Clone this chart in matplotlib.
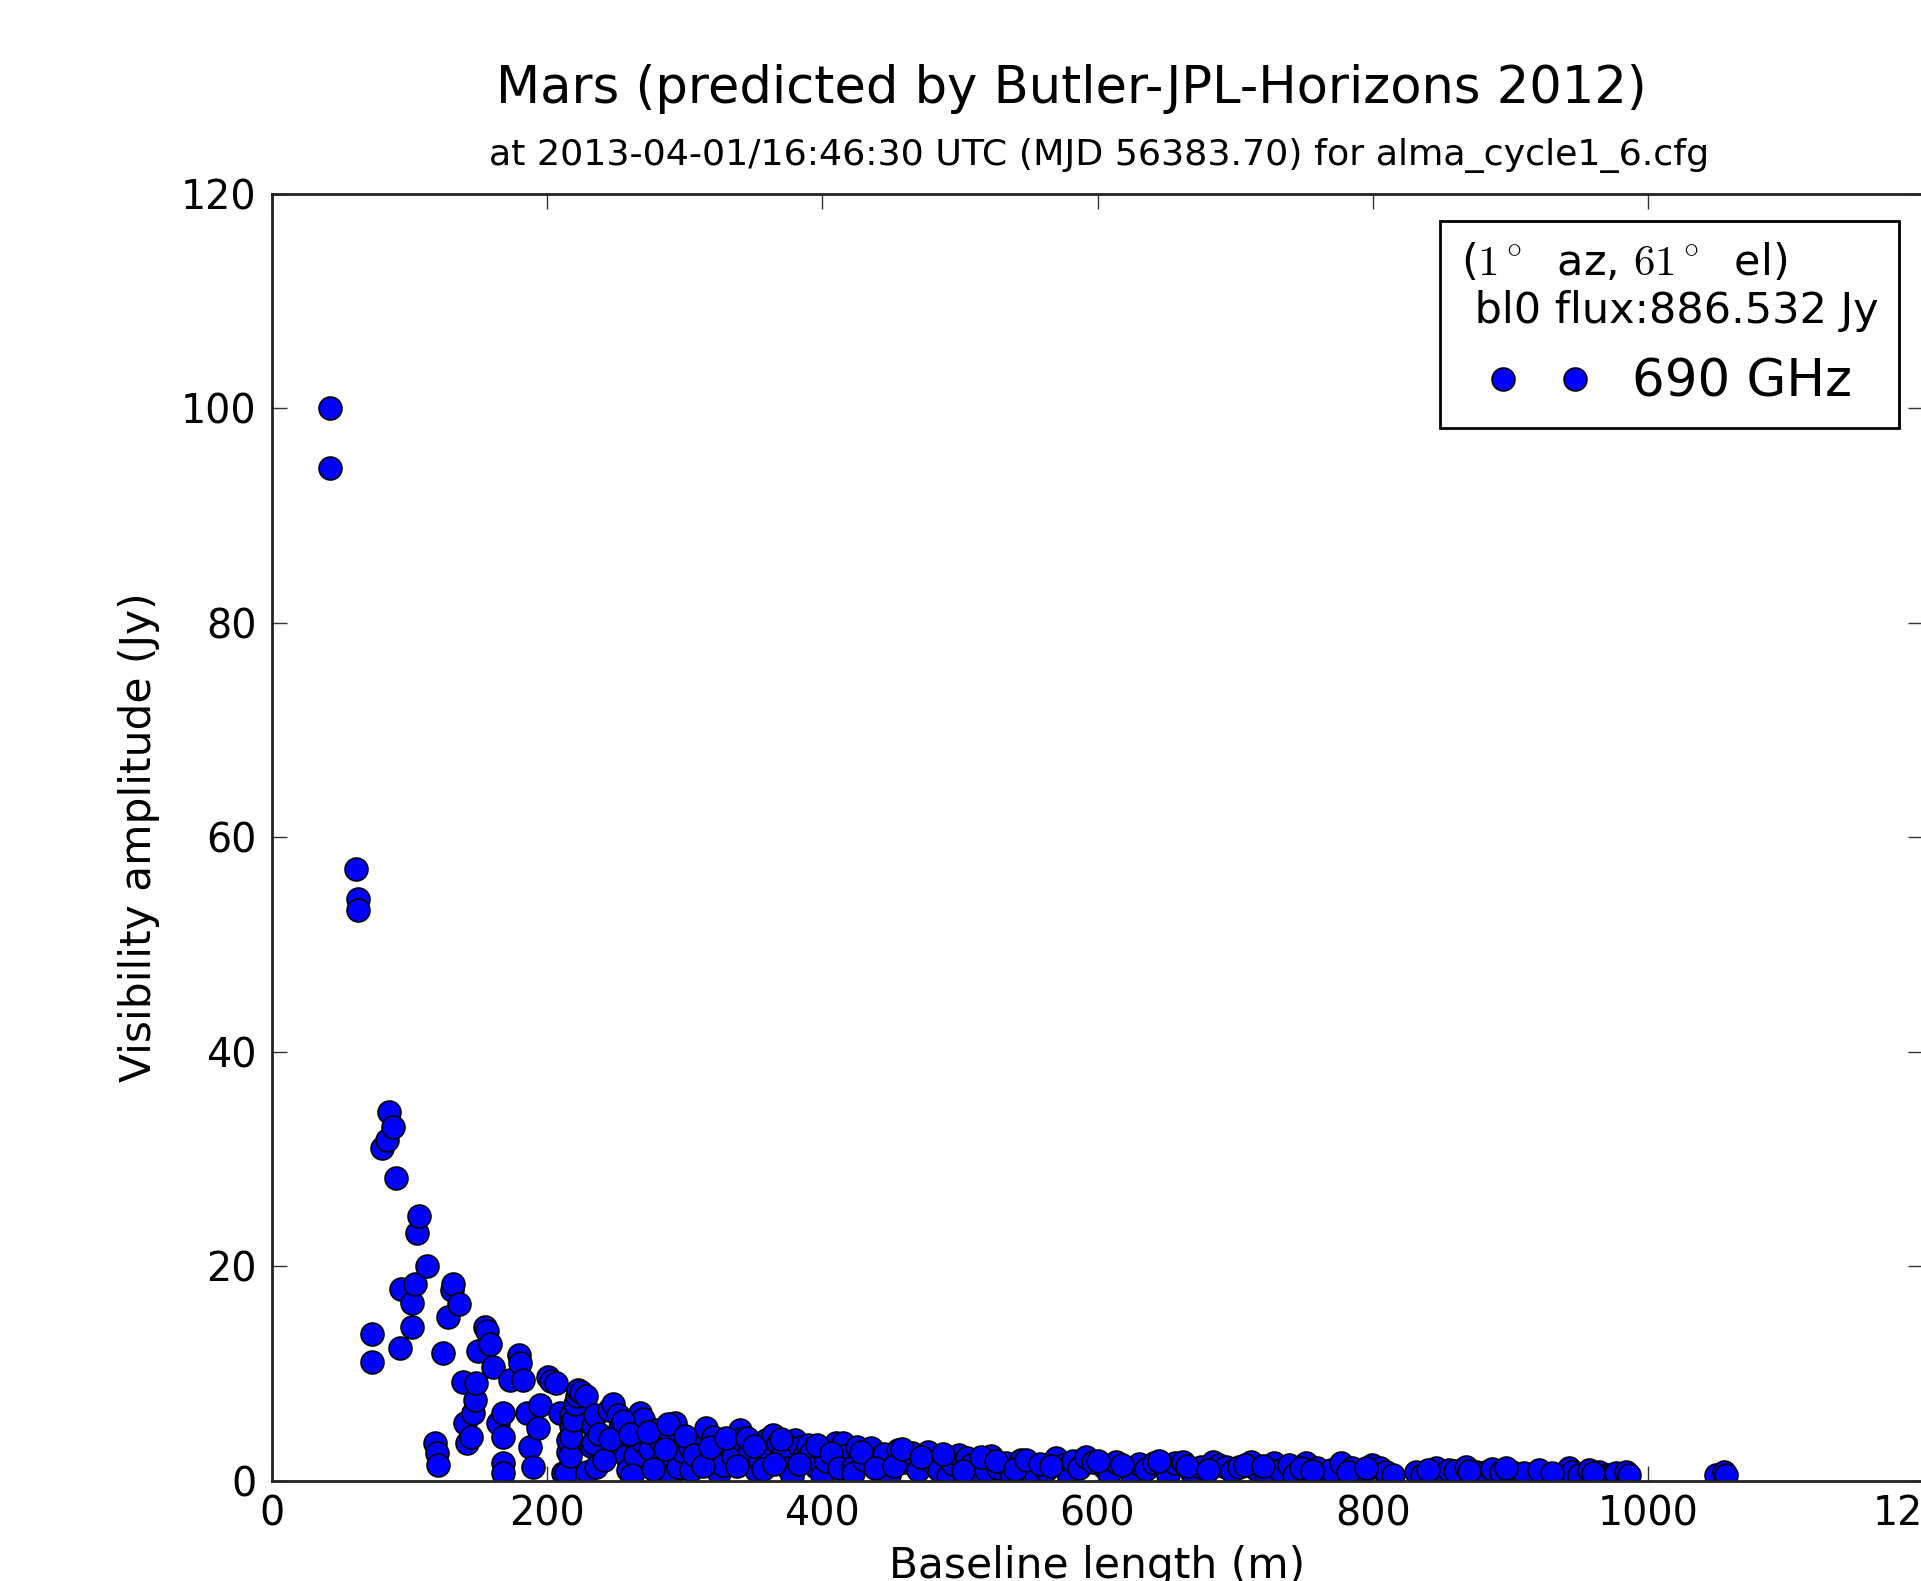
import matplotlib
matplotlib.use("Agg")
import matplotlib.pyplot as plt

plt.rcParams['mathtext.fontset'] = 'cm'
plt.rcParams['font.family'] = ['DejaVu Sans']

# ---- data (baseline length in m, visibility amplitude in Jy) ----
short_baseline_m = [41.8, 41.8, 61.4, 62.3, 62.6, 72.9, 72.9, 80.0, 83.6, 85.4, 88.0, 90.0,
                    93.0, 93.4, 101.4, 101.4, 103.8, 105.5, 107.0, 113.0, 118.4, 119.6, 120.8,
                    124.0, 128.0, 131.0, 131.7, 136.0, 139.0, 140.2, 141.4, 145.0, 146.2, 147.4,
                    148.6, 149.8, 154.7, 156.0, 158.3, 160.7, 164.4, 168.0, 168.0, 168.0, 168.0,
                    172.8, 179.6, 180.0, 182.5, 185.0, 187.4, 189.8, 193.4, 194.6, 200.7, 203.0,
                    206.7, 209.0, 211.6, 214.0, 215.0, 215.2, 216.4, 217.0, 217.6, 217.6, 218.8,
                    220.0, 221.6, 222.4, 224.9, 228.5]
short_amp_jy = [100.0, 94.4, 57.0, 54.2, 53.2, 13.7, 11.1, 31.0, 31.8, 34.4, 33.0, 28.2,
                12.4, 17.9, 16.6, 14.4, 18.4, 23.1, 24.7, 20.0, 3.5, 2.6, 1.5,
                11.9, 15.3, 17.8, 18.4, 16.5, 9.25, 5.4, 3.5, 4.1, 6.3, 7.55,
                9.1, 12.1, 14.4, 14.0, 12.8, 10.65, 5.4, 6.3, 4.1, 1.65, 0.7,
                9.4, 11.7, 11.0, 9.4, 6.3, 3.2, 1.3, 4.9, 7.1, 9.7, 9.3,
                9.1, 6.3, 0.7, 0.7, 2.7, 3.8, 2.3, 5.1, 6.15, 4.1, 5.7,
                7.2, 7.9, 8.5, 8.3, 7.9]

mid_baseline_m = [229.0, 232.0, 233.3, 233.3, 234.6, 235.8, 244.8, 247.9, 251.5, 252.7, 252.7,
                  257.0, 258.8, 263.6, 263.6, 266.0, 267.2, 270.0, 270.0, 275.0, 279.4, 281.8,
                  284.2, 289.0, 290.0, 292.7, 295.0, 298.0, 303.6, 304.8, 310.0, 315.7, 320.5,
                  323.0, 325.0, 327.7, 333.0, 335.0, 339.9, 341.0, 347.1, 352.0, 355.0, 359.2,
                  360.0, 364.0, 368.0, 371.3, 375.0, 378.0, 379.8, 384.0, 387.0, 389.5, 392.0,
                  395.5, 400.0, 400.0, 403.0, 410.0, 414.9, 416.0,
                  238.0, 241.0, 246.0, 255.0, 260.0, 262.0, 273.0, 277.0, 286.0, 288.0,
                  300.0, 307.0, 313.0, 318.0, 330.0, 338.0, 345.0, 350.0, 357.0, 365.0,
                  370.0, 383.0, 396.0, 406.0, 412.0]
mid_amp_jy = [0.8, 3.3, 5.1, 3.5, 6.15, 1.3, 6.6, 7.2, 6.15, 4.9, 3.2,
              2.3, 1.0, 3.8, 2.3, 5.2, 6.3, 5.8, 3.6, 3.0, 4.75, 3.8,
              1.95, 4.45, 0.6, 5.4, 1.3, 2.8, 3.2, 1.0, 3.6, 4.9, 4.1,
              2.6, 0.7, 1.5, 3.1, 2.3, 4.75, 3.9, 2.9, 1.0, 2.0, 3.8,
              2.0, 4.3, 3.5, 2.6, 1.2, 0.5, 3.8, 3.2, 2.3, 3.35, 2.6,
              1.3, 2.9, 0.6, 1.9, 3.5, 3.5, 2.3,
              4.4, 2.0, 3.9, 5.6, 4.4, 0.6, 4.6, 1.1, 3.0, 5.3,
              4.2, 2.4, 1.4, 3.2, 4.0, 1.4, 4.0, 3.3, 1.1, 1.6,
              3.9, 1.6, 3.4, 2.6, 1.2]

long_baseline_m = [422.0, 422.0, 425.0, 430.0, 435.5, 441.5, 445.0, 448.8, 454.8, 460.0, 465.0,
                   469.4, 476.6, 480.0, 485.0, 491.6, 495.0, 499.6, 505.0, 508.0, 512.0, 518.9,
                   522.6, 528.0, 533.5, 538.0, 544.4, 550.0, 555.3, 562.6, 569.8, 575.0, 579.0,
                   582.0, 586.8, 591.5, 596.4, 605.0, 608.0, 613.4, 623.1, 624.9, 630.0, 635.0,
                   641.2, 648.0, 651.5, 656.0, 661.8, 669.0, 675.0, 683.6, 688.4, 693.3, 698.0,
                   703.0, 711.5, 715.0, 722.4, 728.4, 733.0, 739.3, 743.0, 751.4, 759.9, 765.8,
                   770.0, 776.8, 785.3, 792.5, 799.8, 805.0, 809.5, 831.3, 836.0, 845.8, 850.0,
                   855.5, 860.0, 867.6, 874.9, 882.1, 887.0, 893.0, 901.5, 910.0, 920.8, 942.6,
                   945.0, 949.9, 957.2, 964.5, 970.4, 974.0, 976.5, 983.8, 986.0, 1049.2, 1055.2,
                   1057.0,
                   428.0, 438.0, 452.0, 458.0, 472.0, 488.0, 502.0, 515.0, 526.0, 540.0,
                   548.0, 558.0, 566.0, 600.0, 618.0, 645.0, 665.0, 680.0, 707.0, 720.0,
                   748.0, 756.0, 782.0, 795.0, 815.0, 840.0, 870.0, 897.0, 930.0, 960.0]
long_amp_jy = [1.3, 0.7, 3.2, 2.0, 3.05, 1.65, 2.5, 0.55, 2.9, 1.8, 2.6,
               1.0, 2.7, 1.8, 1.0, 0.45, 1.6, 2.4, 2.1, 1.5, 0.8, 1.0,
               2.3, 1.2, 1.65, 0.45, 1.95, 1.4, 0.4, 1.0, 2.1, 1.5, 0.2,
               1.9, 1.2, 2.2, 1.8, 1.3, 0.7, 1.8, 1.2, 0.45, 1.6, 1.1,
               1.65, 1.3, 0.6, 1.7, 1.8, 0.75, 1.3, 1.8, 1.5, 1.35, 0.9,
               1.35, 1.8, 1.1, 0.55, 1.65, 1.0, 1.5, 0.55, 1.65, 1.2, 0.4,
               1.0, 1.65, 1.2, 0.4, 1.5, 1.2, 0.85, 0.85, 0.55, 1.2, 0.6,
               1.0, 0.9, 1.35, 0.85, 0.85, 1.1, 0.85, 0.85, 0.7, 1.0, 1.2,
               0.8, 0.55, 1.0, 0.85, 0.55, 0.55, 0.7, 0.85, 0.55, 0.55, 0.85,
               0.55,
               2.7, 1.2, 1.4, 3.0, 2.2, 2.5, 0.9, 2.2, 1.9, 1.1,
               2.0, 1.6, 1.4, 1.9, 1.5, 1.9, 1.4, 1.0, 1.5, 1.4,
               1.2, 0.9, 0.8, 1.2, 0.6, 1.0, 0.9, 1.2, 0.7, 0.7]

x_ticks = [0, 200, 400, 600, 800, 1000, 1200]
y_ticks = [0, 20, 40, 60, 80, 100, 120]

title_text = "Mars (predicted by Butler-JPL-Horizons 2012)"
subtitle_text = "at 2013-04-01/16:46:30 UTC (MJD 56383.70) for alma_cycle1_6.cfg"
legend_title = "($1^\\circ$  az, $61^\\circ$  el)\n bl0 flux:886.532 Jy"
series_label = "690 GHz"

baseline = short_baseline_m + mid_baseline_m + long_baseline_m
amplitude = short_amp_jy + mid_amp_jy + long_amp_jy

# ---- figure ----
W, H = 1921, 1581
fig = plt.figure(figsize=(W / 100, H / 100), dpi=100)
ax = fig.add_axes([272 / W, (H - 1481) / H, 1651 / W, 1287.5 / H])

ax.plot(baseline, amplitude, linestyle='none', marker='o', markersize=16.5,
        markerfacecolor='#0000ff', markeredgecolor='black', markeredgewidth=1.2,
        label=series_label)

ax.set_xlim(0, 1200)
ax.set_ylim(0, 120)
ax.set_xticks(x_ticks)
ax.set_yticks(y_ticks)
ax.tick_params(direction='in', top=True, right=True, length=11, width=1.0,
               labelsize=28.5, color='#333333')
ax.tick_params(axis='x', pad=10)
ax.tick_params(axis='y', pad=11)
for s in ax.spines.values():
    s.set_linewidth(2.0)
    s.set_color('#222222')

ax.set_xlabel("Baseline length (m)", fontsize=30.5)
ax.set_ylabel("Visibility amplitude (Jy)", fontsize=30.5)
ax.xaxis.set_label_coords(0.5, -0.0497)
ax.yaxis.set_label_coords((160 - 272) / 1651, 0.5)

fig.text(1071 / W, 1 - 103 / H, title_text, ha='center', va='baseline', fontsize=36.8)
fig.text(1099 / W, 1 - 165 / H, subtitle_text, ha='center', va='baseline', fontsize=26.2)

leg = ax.legend(loc='upper right', bbox_to_anchor=(0.9855, 0.9786), borderaxespad=0,
                numpoints=2, fancybox=False, framealpha=1, edgecolor='black',
                title=legend_title, title_fontsize=31, prop={'size': 37})
leg.get_frame().set_linewidth(2.0)

fig.savefig("out.png", dpi=100)
